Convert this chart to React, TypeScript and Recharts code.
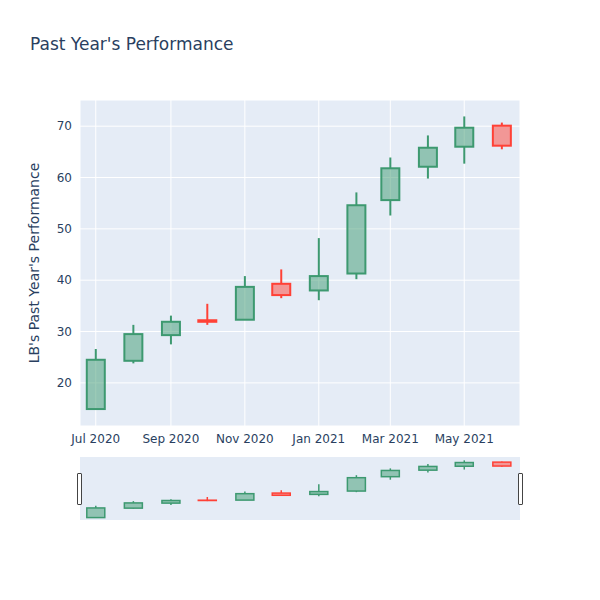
import { ComposedChart, Bar, XAxis, YAxis, CartesianGrid } from "recharts";

const dates = [
  "2020-07-01", "2020-08-01", "2020-09-01", "2020-10-01", "2020-11-01", "2020-12-01",
  "2021-01-01", "2021-02-01", "2021-03-01", "2021-04-01", "2021-05-01", "2021-06-01",
];
const open = [14.9, 24.3, 29.3, 32.2, 32.3, 39.3, 38.0, 41.3, 55.6, 62.1, 66.0, 70.1];
const high = [26.6, 31.3, 33.1, 35.4, 40.8, 42.1, 48.2, 57.1, 63.9, 68.2, 71.9, 70.7];
const low = [14.9, 23.8, 27.5, 31.3, 32.3, 36.5, 36.1, 40.2, 52.6, 59.8, 62.7, 65.5];
const close = [24.5, 29.5, 31.9, 31.9, 38.7, 37.1, 40.8, 54.6, 61.8, 65.8, 69.7, 66.2];

const xTicks = ["2020-07-01", "2020-09-01", "2020-11-01", "2021-01-01", "2021-03-01", "2021-05-01"];
const yTicks = [20, 30, 40, 50, 60, 70];
const MONTHS = ["Jan", "Feb", "Mar", "Apr", "May", "Jun", "Jul", "Aug", "Sep", "Oct", "Nov", "Dec"];

const toTs = (s: string) => Date.parse(s + "T00:00:00Z");

const data = dates.map((d, i) => ({
  t: toTs(d),
  open: open[i],
  high: high[i],
  low: low[i],
  close: close[i],
  range: [low[i], high[i]],
}));

const xDomain = [Date.UTC(2020, 5, 18), Date.UTC(2021, 5, 16)];
const yDomain = [11.6, 75.1];

const UP = "#3D9970";
const DOWN = "#FF4136";
const TEXT = "#2a3f5f";
const FONT = '"DejaVu Sans", verdana, arial, sans-serif';

const formatX = (v: number) => {
  const d = new Date(v);
  return `${MONTHS[d.getUTCMonth()]} ${d.getUTCFullYear()}`;
};

function Candle(props: any) {
  const { x, y, width, height, payload, lw } = props;
  if (!payload) return null;
  const { open: o, close: c, high: h, low: l } = payload;
  const top = Math.min(y, y + height);
  const span = Math.abs(height);
  const ratio = h - l > 0 ? span / (h - l) : 0;
  const bodyTop = top + (h - Math.max(o, c)) * ratio;
  const bodyBot = top + (h - Math.min(o, c)) * ratio;
  const cx = x + width / 2;
  const up = c >= o;
  const col = up ? UP : DOWN;
  const fill = up ? "rgba(61,153,112,0.5)" : "rgba(255,65,54,0.5)";
  return (
    <g>
      <line x1={cx} x2={cx} y1={top} y2={bodyTop} stroke={col} strokeWidth={lw} />
      <line x1={cx} x2={cx} y1={bodyBot} y2={top + span} stroke={col} strokeWidth={lw} />
      <rect
        x={x}
        y={bodyTop}
        width={width}
        height={Math.max(bodyBot - bodyTop, 0.01)}
        fill={fill}
        stroke={col}
        strokeWidth={lw}
      />
    </g>
  );
}

const handleStyle = (left: number): React.CSSProperties => ({
  position: "absolute",
  left,
  top: 473,
  width: 3,
  height: 30,
  background: "#fff",
  border: "1px solid #444",
  borderRadius: 1,
});

export default function App() {
  return (
    <div
      style={{
        position: "absolute",
        left: 0,
        top: 0,
        width: 600,
        height: 600,
        background: "#fff",
        fontFamily: FONT,
      }}
    >
      <div
        style={{
          position: "absolute",
          left: 30,
          top: 34,
          fontSize: 17,
          lineHeight: "20px",
          color: TEXT,
        }}
      >
        Past Year's Performance
      </div>
      <div style={{ position: "absolute", left: 0, top: 0 }}>
        <ComposedChart
          width={600}
          height={456}
          data={data}
          margin={{ top: 100, right: 80, bottom: 0, left: 25 }}
        >
          <CartesianGrid stroke="#fff" strokeWidth={1} fill="#E5ECF6" fillOpacity={1} />
          <XAxis
            dataKey="t"
            type="number"
            scale="time"
            domain={xDomain}
            allowDataOverflow
            ticks={xTicks.map(toTs)}
            tickFormatter={formatX}
            axisLine={false}
            tickLine={false}
            tickMargin={2}
            height={30}
            tick={{ fill: TEXT, fontSize: 12, fontFamily: FONT }}
          />
          <YAxis
            type="number"
            domain={yDomain}
            allowDataOverflow
            ticks={yTicks}
            axisLine={false}
            tickLine={false}
            tickMargin={2}
            width={55}
            tick={{ fill: TEXT, fontSize: 12, fontFamily: FONT }}
            label={{
              value: "LB's Past Year's Performance",
              angle: -90,
              position: "insideLeft",
              offset: 9,
              style: { textAnchor: "middle", fill: TEXT, fontSize: 14, fontFamily: FONT },
            }}
          />
          <Bar
            dataKey="range"
            barSize={18}
            isAnimationActive={false}
            shape={(p: any) => <Candle {...p} lw={2} />}
          />
        </ComposedChart>
      </div>
      <div style={{ position: "absolute", left: 80, top: 457 }}>
        <ComposedChart
          width={440}
          height={63}
          data={data}
          margin={{ top: 0, right: 0, bottom: 0, left: 0 }}
        >
          <CartesianGrid horizontal={false} vertical={false} fill="#E5ECF6" fillOpacity={1} />
          <XAxis dataKey="t" type="number" scale="time" domain={xDomain} allowDataOverflow hide />
          <YAxis type="number" domain={[12.5, 75.2]} allowDataOverflow hide />
          <Bar
            dataKey="range"
            barSize={18}
            isAnimationActive={false}
            shape={(p: any) => <Candle {...p} lw={1.5} />}
          />
        </ComposedChart>
      </div>
      <div style={handleStyle(77)} />
      <div style={handleStyle(518)} />
    </div>
  );
}
